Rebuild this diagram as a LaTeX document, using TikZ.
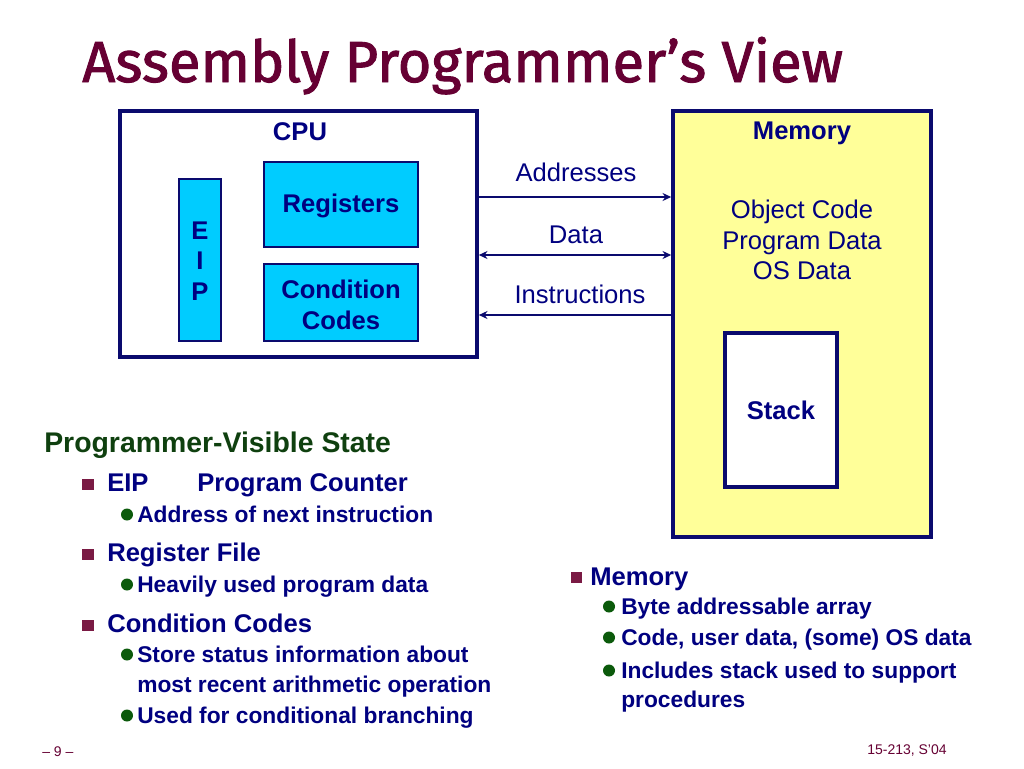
\documentclass[tikz,border=0pt]{standalone}
\usepackage{fontspec}
\setmainfont{Liberation Sans}
\newfontfamily\titlefont[FakeBold=1.6]{Fira Sans}
\usetikzlibrary{fit,arrows.meta}
\definecolor{navy}{HTML}{000080}
\definecolor{boxline}{HTML}{0A0A6E}
\definecolor{titlec}{HTML}{660033}
\definecolor{sqc}{HTML}{7A1A44}
\definecolor{headg}{HTML}{0F400F}
\definecolor{dotg}{HTML}{0B5A0B}
\definecolor{cyanbox}{HTML}{00CCFF}
\definecolor{memyel}{HTML}{FFFF99}
\begin{document}
\begin{tikzpicture}[x=0.75pt,y=-0.75pt,
  box/.style={draw=boxline, line width=2.7pt, inner sep=0pt},
  ibox/.style={draw=boxline, line width=2.2pt, inner sep=0pt, fill=cyanbox},
  lbl/.style={text=navy, inner sep=0pt, font=\fontsize{19.2}{23}\selectfont},
  blbl/.style={text=navy, inner sep=0pt, align=center, font=\bfseries\fontsize{19.2}{23}\selectfont},
  mainb/.style={anchor=base west, text=navy, inner sep=0pt, font=\bfseries\fontsize{19.2}{23}\selectfont},
  subb/.style={anchor=base west, text=navy, inner sep=0pt, font=\bfseries\fontsize{17.07}{20}\selectfont},
  sq/.style={fill=sqc, minimum size=8.4pt, inner sep=0pt},
  gdot/.style={circle, fill=dotg, minimum size=9pt, inner sep=0pt},
  conn/.style={draw=boxline, line width=2.2pt},
  tip/.style={-{Stealth[length=6.5pt,width=6pt]}}
]
\useasboundingbox (0,0) rectangle (1024,768);
\fill[white] (0,0) rectangle (1024,768);

% Title
\node[anchor=base west, inner sep=0pt, text=titlec, font=\titlefont\fontsize{43.4}{50}\selectfont] (title) at (82,82) {Assembly Programmer’s View};

% CPU
\node[box, fit={(120,111) (477,357)}] (cpu) {};
\node[blbl] (cpulbl) at (300,132) {CPU};
\node[ibox, fit={(179,179) (221,341)}] (eip) {};
\node[blbl, font=\bfseries\fontsize{19.2}{22.8}\selectfont] (eiplbl) at (200,261) {E\\I\\P};
\node[ibox, fit={(264,162) (418,247)}] (regs) {};
\node[blbl] (regslbl) at (341,206) {Registers};
\node[ibox, fit={(264,264) (418,341)}] (cc) {};
\node[blbl, font=\bfseries\fontsize{19.2}{23.2}\selectfont] (cclbl) at (341,305) {Condition\\Codes};

% Memory
\node[box, fill=memyel, fit={(673,111) (931,537)}] (mem) {};
\node[blbl] (memlbl) at (802,133) {Memory};
\node[lbl, align=center, font=\fontsize{19.2}{22.9}\selectfont] (memtxt) at (802,240) {Object Code\\Program Data\\OS Data};
\node[box, fill=white, fit={(725,333) (837,487)}] (stack) {};
\node[blbl] (stacklbl) at (781,410) {Stack};

% Connectors
\coordinate (a1) at (0,197);
\coordinate (d1) at (0,255);
\coordinate (i1) at (0,315);
\draw[conn, tip] (cpu.east |- a1) -- (mem.west |- a1);
\draw[conn, {Stealth[length=6.5pt,width=6pt]}-{Stealth[length=6.5pt,width=6pt]}] (cpu.east |- d1) -- (mem.west |- d1);
\draw[conn, tip] (mem.west |- i1) -- (cpu.east |- i1);
\node[lbl] (addr) at (576,172) {Addresses};
\node[lbl] (data) at (576,235) {Data};
\node[lbl] (instr) at (580,294) {Instructions};

% Programmer-visible state
\node[anchor=base west, inner sep=0pt, text=headg, font=\bfseries\fontsize{21.3}{25}\selectfont] (pvs) at (44,452) {Programmer-Visible State};

\node[sq] (s1) at (88,484.5) {};
\node[mainb] (eipt) at (107,491) {EIP};
\node[mainb] (pct) at (197,491) {Program Counter};
\node[gdot] (d1b) at (127,514.5) {};
\node[subb] (t1) at (137,522) {Address of next instruction};

\node[sq] (s2) at (88,554.5) {};
\node[mainb] (rft) at (107,561) {Register File};
\node[gdot] (d2b) at (127,584.5) {};
\node[subb] (t2) at (137,592) {Heavily used program data};

\node[sq] (s3) at (88,625.5) {};
\node[mainb] (cct) at (107,632) {Condition Codes};
\node[gdot] (d3b) at (127,654.5) {};
\node[subb] (t3) at (137,662) {Store status information about};
\node[subb] (t3b) at (137,692) {most recent arithmetic operation};
\node[gdot] (d4b) at (127,715.5) {};
\node[subb] (t4) at (137,723) {Used for conditional branching};

% Memory bullets
\node[sq] (s4) at (576.5,577.5) {};
\node[mainb] (mt) at (590,585) {Memory};
\node[gdot] (d5b) at (609,606.5) {};
\node[subb] (m1) at (621,614) {Byte addressable array};
\node[gdot] (d6b) at (609,637.5) {};
\node[subb] (m2) at (621,645) {Code, user data, (some) OS data};
\node[gdot] (d7b) at (609,670.5) {};
\node[subb] (m3) at (621,678) {Includes stack used to support};
\node[subb] (m3b) at (621,707) {procedures};

% Footer
\node[anchor=base west, inner sep=0pt, text=titlec, font=\fontsize{10.5}{12}\selectfont] (pg) at (42,756) {– 9 –};
\node[anchor=base west, inner sep=0pt, text=titlec, font=\fontsize{10.5}{12}\selectfont] (course) at (867,754) {15-213, S’04};
\end{tikzpicture}
\end{document}
